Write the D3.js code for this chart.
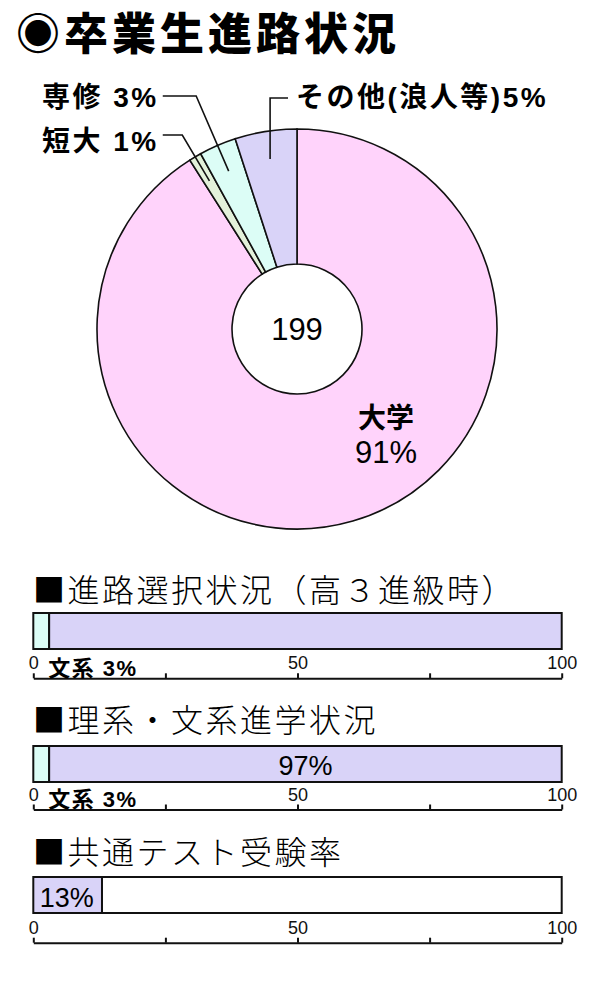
<!doctype html>
<html lang="ja">
<head>
  <meta charset="utf-8">
  <title>卒業生進路状況</title>
  <script src="https://cdn.jsdelivr.net/npm/d3@7"></script>
  <style>
    body { margin: 0; background: #fff; }
    svg { display: block; }
    .jp { font-family: "Noto Sans CJK JP", sans-serif; }
    .mix { font-family: "Liberation Sans", "Noto Sans CJK JP", sans-serif; }
  </style>
</head>
<body>
<script>
  // pie: 卒業生進路
  var courseCats = ["大学", "短大", "専修", "その他(浪人等)"];
  var courseShares = [91, 1, 3, 5];
  var graduateCount = 199;
  var courseColors = ["#ffd3fb", "#e3f1da", "#dcfdf6", "#d9d3f8"];

  // bars
  var barTitles = ["■進路選択状況（高３進級時）", "■理系・文系進学状況", "■共通テスト受験率"];
  var barFirst = [3, 3, 13];
  var barRest = [97, 97, 87];
  var barColors = [["#dcfdf6", "#d9d3f8"], ["#dcfdf6", "#d9d3f8"], ["#d9d3f8", "#ffffff"]];
  var axisTicks = [0, 25, 50, 75, 100];
  var axisLabels = [0, 50, 100];

  var svg = d3.select("body").append("svg")
      .attr("width", 600).attr("height", 1000);
  svg.append("rect").attr("width", 600).attr("height", 1000).attr("fill", "#fff");

  svg.append("text").attr("class", "jp")
      .attr("x", 16).attr("y", 50)
      .attr("font-size", 44).attr("font-weight", 900)
      .attr("letter-spacing", 4)
      .text("◉卒業生進路状況");

  // ---- pie ----
  var cx = 297, cy = 329;
  var pie = d3.pie().sort(null).value(function(d) { return d; });
  var arcs = pie(courseShares);
  var arc = d3.arc().innerRadius(65).outerRadius(200);
  var pg = svg.append("g").attr("transform", "translate(" + cx + "," + cy + ")");

  pg.selectAll("path").data(arcs).enter().append("path")
      .attr("d", arc)
      .attr("fill", function(d, i) { return courseColors[i]; })
      .attr("stroke", "#111").attr("stroke-width", 1.6);

  pg.append("text").attr("class", "mix")
      .attr("text-anchor", "middle").attr("y", 11)
      .attr("font-size", 31)
      .text(graduateCount);

  // 大学 label inside
  pg.append("text").attr("class", "mix")
      .attr("x", 89).attr("y", 99).attr("text-anchor", "middle")
      .attr("font-size", 28).attr("font-weight", 700)
      .text(courseCats[0]);
  pg.append("text").attr("class", "mix")
      .attr("x", 89).attr("y", 134).attr("text-anchor", "middle")
      .attr("font-size", 31)
      .text(courseShares[0] + "%");

  // outside labels with leader lines
  var labelPos = [null,
    { x: 42, y: 151, lineY: 135, sep: " ", kind: "radial" },
    { x: 42, y: 106.5, lineY: 96, sep: " ", kind: "radial" },
    { x: 296, y: 106.5, lineY: 98, sep: "", kind: "vertical" }];

  arcs.forEach(function(d, i) {
    var p = labelPos[i];
    if (!p) return;
    var t = svg.append("text").attr("class", "mix")
        .attr("x", p.x).attr("y", p.y)
        .attr("font-size", 28).attr("font-weight", 700)
        .attr("letter-spacing", 2.5)
        .text(courseCats[i] + p.sep + courseShares[i] + "%");
    var a = (d.startAngle + d.endAngle) / 2;
    var ex = cx + Math.sin(a) * 172, ey = cy - Math.cos(a) * 172;
    var pts;
    if (p.kind == "radial") {
      var r = (cy - p.lineY) / Math.cos(a);
      var bx = cx + Math.sin(a) * r;
      var tx = p.x + t.node().getComputedTextLength() + 4;
      pts = [[tx, p.lineY], [bx, p.lineY], [ex, ey]];
    } else {
      pts = [[p.x - 8, p.lineY], [ex, p.lineY], [ex, ey]];
    }
    svg.append("path")
        .attr("d", d3.line()(pts))
        .attr("fill", "none").attr("stroke", "#111").attr("stroke-width", 1.6);
  });

  // ---- bars ----
  var x = d3.scaleLinear().domain([0, 100]).range([33.3, 561.7]);
  var secLayout = [
    { titleY: 602, barY: 613, axisY: 678.3 },
    { titleY: 732, barY: 746, axisY: 809.5 },
    { titleY: 864, barY: 877, axisY: 942.7 }];
  var barH = 36;

  barTitles.forEach(function(title, i) {
    var s = secLayout[i];
    svg.append("text").attr("class", "jp")
        .attr("x", 33).attr("y", s.titleY)
        .attr("font-size", 32).attr("font-weight", 300)
        .attr("letter-spacing", 2.5)
        .text(title);

    var segs = [[0, barFirst[i]], [barFirst[i], barFirst[i] + barRest[i]]];
    svg.selectAll(null).data(segs).enter().append("rect")
        .attr("x", function(d) { return x(d[0]); })
        .attr("y", s.barY)
        .attr("width", function(d) { return x(d[1]) - x(d[0]); })
        .attr("height", barH)
        .attr("fill", function(d, j) { return barColors[i][j]; })
        .attr("stroke", "#111").attr("stroke-width", 2);

    var ax = svg.append("g")
        .attr("transform", "translate(0," + s.axisY + ")")
        .call(d3.axisTop(x).tickValues(axisTicks).tickSize(5).tickSizeOuter(0).tickPadding(4)
          .tickFormat(function(d) { return axisLabels.indexOf(d) >= 0 ? d : ""; }));
    ax.select(".domain").attr("stroke", "#111").attr("stroke-width", 2);
    ax.selectAll(".tick line").attr("stroke", "#111").attr("stroke-width", 2);
    ax.selectAll(".tick text")
        .attr("font-family", "Liberation Sans, sans-serif")
        .attr("font-size", 18).attr("fill", "#111");
  });

  // 文系 labels under bars 1 and 2
  [0, 1].forEach(function(i) {
    svg.append("text").attr("class", "mix")
        .attr("x", x(barFirst[i]) - 1).attr("y", secLayout[i].axisY - 2.5)
        .attr("font-size", 22).attr("font-weight", 700)
        .attr("letter-spacing", 1.5)
        .text("文系 " + barFirst[i] + "%");
  });
  // 97% inside bar 2
  svg.append("text").attr("class", "mix")
      .attr("x", (x(barFirst[1]) + x(100)) / 2).attr("y", secLayout[1].barY + 29)
      .attr("text-anchor", "middle").attr("font-size", 27)
      .text(barRest[1] + "%");
  // 13% inside bar 3
  svg.append("text").attr("class", "mix")
      .attr("x", x(0) + 6.5).attr("y", secLayout[2].barY + 30)
      .attr("font-size", 27)
      .text(barFirst[2] + "%");
</script>
</body>
</html>
